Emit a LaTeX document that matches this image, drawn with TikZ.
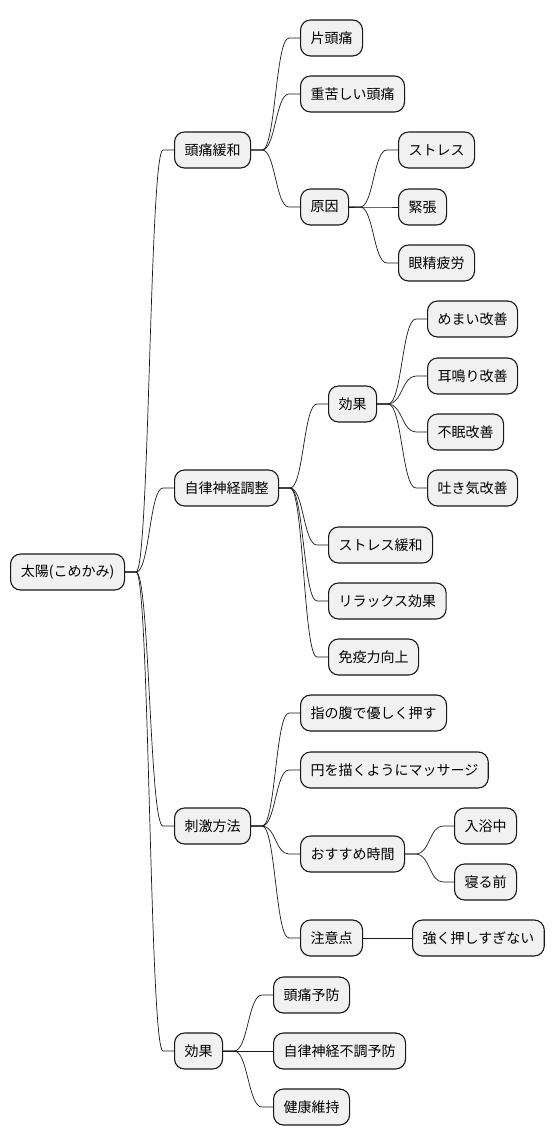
\documentclass[tikz,border=0pt]{standalone}
\usepackage{fontspec}
\setmainfont{Noto Sans CJK JP}
\usetikzlibrary{calc}
\definecolor{nodefill}{RGB}{241,241,241}
\definecolor{edgegray}{RGB}{24,24,24}

\begin{document}
\begin{tikzpicture}[
  x=1pt, y=-1pt,
  topic/.style={draw=edgegray, line width=1.1pt, fill=nodefill,
                rounded corners=10pt, minimum height=36pt, inner xsep=10pt,
                anchor=west, font=\fontsize{14pt}{16pt}\selectfont},
  link/.style={edgegray, line width=0.7pt},
  branch/.style={to path={let \p1=(\tikztostart.east), \p2=(\tikztotarget.west) in
    (\p1) -- ($(\p1)+(11pt,0)$)
    .. controls ({0.5*(\x1+\x2)},\y1) and ({0.5*(\x1+\x2)},\y2) .. ($(\p2)-(11pt,0)$)
    -- (\p2)}}
]
  \useasboundingbox (0,0) rectangle (555,1146);

  % root
  \node[topic, minimum width=114pt] (root) at (10,572) {太陽(こめかみ)};

  % headache relief
  \node[topic] (relief)    at (174,150) {頭痛緩和};
  \node[topic] (migraine)  at (300,38)  {片頭痛};
  \node[topic] (heavy)     at (300,94)  {重苦しい頭痛};
  \node[topic] (cause)     at (300,207) {原因};
  \node[topic] (stress)    at (398,150) {ストレス};
  \node[topic] (tension)   at (398,207) {緊張};
  \node[topic] (eyestrain) at (398,263) {眼精疲労};

  % autonomic nerves
  \node[topic] (autonomic) at (174,488) {自律神経調整};
  \node[topic] (effect)    at (328,404) {効果};
  \node[topic] (dizzy)     at (427,319) {めまい改善};
  \node[topic] (tinnitus)  at (427,376) {耳鳴り改善};
  \node[topic] (insomnia)  at (427,432) {不眠改善};
  \node[topic] (nausea)    at (427,488) {吐き気改善};
  \node[topic] (calm)      at (328,545) {ストレス緩和};
  \node[topic] (relax)     at (328,601) {リラックス効果};
  \node[topic] (immune)    at (328,657) {免疫力向上};

  % stimulation method
  \node[topic] (method)    at (174,826) {刺激方法};
  \node[topic] (fingers)   at (300,713) {指の腹で優しく押す};
  \node[topic] (circles)   at (300,770) {円を描くようにマッサージ};
  \node[topic] (timing)    at (300,854) {おすすめ時間};
  \node[topic] (bath)      at (454,826) {入浴中};
  \node[topic] (bedtime)   at (454,882) {寝る前};
  \node[topic] (caution)   at (300,938) {注意点};
  \node[topic] (gentle)    at (412,938) {強く押しすぎない};

  % benefits
  \node[topic] (benefit)   at (174,1051) {効果};
  \node[topic] (prevent)   at (273,995)  {頭痛予防};
  \node[topic] (ansprev)   at (273,1051) {自律神経不調予防};
  \node[topic] (health)    at (273,1107) {健康維持};

  \foreach \a/\b in {root/relief, root/autonomic, root/method, root/benefit,
      relief/migraine, relief/heavy, relief/cause,
      cause/stress, cause/tension, cause/eyestrain,
      autonomic/effect, autonomic/calm, autonomic/relax, autonomic/immune,
      effect/dizzy, effect/tinnitus, effect/insomnia, effect/nausea,
      method/fingers, method/circles, method/timing, method/caution,
      timing/bath, timing/bedtime, caution/gentle,
      benefit/prevent, benefit/ansprev, benefit/health}
    \draw[link] (\a) to[branch] (\b);

\end{tikzpicture}
\end{document}
